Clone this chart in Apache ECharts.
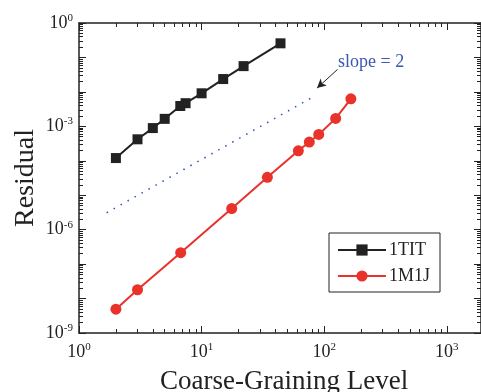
<!DOCTYPE html>
<html>
<head>
<meta charset="utf-8">
<script src="https://cdn.jsdelivr.net/npm/echarts@6/dist/echarts.min.js"></script>
<style>
  html, body { margin: 0; padding: 0; background: #fff; }
  #chart { width: 481px; height: 392px; }
</style>
</head>
<body>
<div id="chart"></div>
<script>
// data
var titX = [2, 3, 4, 5, 6.7, 7.4, 10, 15, 22, 44];
var titY = [1.2e-4, 4.2e-4, 8.9e-4, 1.65e-3, 3.9e-3, 4.7e-3, 9.1e-3, 0.0236, 0.056, 0.257];
var m1jX = [2, 3, 6.75, 17.6, 34.4, 61.5, 75.6, 90.2, 124, 165];
var m1jY = [4.9e-9, 1.8e-8, 2.15e-7, 4.1e-6, 3.3e-5, 1.95e-4, 3.5e-4, 5.8e-4, 1.7e-3, 6.3e-3];
var slopeX = [1.68, 82.6];
var slopeY = [3.1e-6, 7.4e-3];
var arrowFrom = [128.6, 0.045];
var arrowTo = [87.4, 0.0129];

var xLabelVals = [1, 10, 100, 1000];
var yLabelVals = [1, 1e-3, 1e-6, 1e-9];
var X_MIN = 1, X_MAX = 1900, Y_MIN = 1e-9, Y_MAX = 1;

// minor ticks 2..9 of each decade, given as exponents for the tick-only axes
function minorExps(lo, hi) {
  var out = [];
  for (var e = lo; e < hi; e++) {
    for (var k = 2; k <= 9; k++) out.push(Math.log10(k * Math.pow(10, e)));
  }
  return out;
}
var xMinorExps = minorExps(0, 4).filter(function (v) { return v <= Math.log10(X_MAX); });
var yMinorExps = minorExps(-9, 0);

function zip(a, b) { return a.map(function (v, i) { return [v, b[i]]; }); }

var FONT = '"Liberation Serif", "DejaVu Serif", serif';
var INK = '#222';

function powLabel(v) {
  var e = Math.round(Math.log10(v));
  return '{b|10}{s|' + (e < 0 ? '-' + (-e) : e) + '}';
}
var richLbl = {
  b: { fontFamily: FONT, fontSize: 18, color: INK },
  s: { fontFamily: FONT, fontSize: 11, color: INK, padding: [0, 0, 10, 0] }
};

function logX(pos, labels) {
  return {
    type: 'log', position: pos, min: X_MIN, max: X_MAX,
    axisLine: { show: true, onZero: false, lineStyle: { color: INK, width: 1.5 } },
    axisTick: { show: true, inside: true, length: 7, lineStyle: { color: INK, width: 1 } },
    axisLabel: labels ? { show: true, customValues: xLabelVals, formatter: powLabel, rich: richLbl, margin: 9 } : { show: false },
    splitLine: { show: false }
  };
}
function logY(pos, labels) {
  return {
    type: 'log', position: pos, min: Y_MIN, max: Y_MAX,
    axisLine: { show: true, onZero: false, lineStyle: { color: INK, width: 1.5 } },
    axisTick: { show: true, inside: true, length: 7, lineStyle: { color: INK, width: 1 } },
    axisLabel: labels ? { show: true, customValues: yLabelVals, formatter: powLabel, rich: richLbl, margin: 6 } : { show: false },
    splitLine: { show: false }
  };
}
// tick-only axes for the minor ticks, in exponent space
function minorAx(pos, lo, hi, vals) {
  return {
    type: 'value', position: pos, min: lo, max: hi, silent: true,
    axisLine: { show: false, onZero: false },
    axisTick: { show: true, inside: true, length: 4, customValues: vals, lineStyle: { color: INK, width: 1 } },
    axisLabel: { show: false },
    splitLine: { show: false }
  };
}

var chart = echarts.init(document.getElementById('chart'));
chart.setOption({
  animation: false,
  backgroundColor: '#fff',
  grid: { left: 79, top: 23, right: 0, bottom: 59, show: false },
  graphic: [
    { type: 'text', left: 338, top: 53, style: { text: 'slope = 2', fontFamily: FONT, fontSize: 18, fill: '#3a58b0' } },
    { type: 'text', left: 160, top: 368, style: { text: 'Coarse-Graining Level', fontFamily: FONT, fontSize: 27, fill: INK } },
    { type: 'text', x: 12, y: 178, rotation: Math.PI / 2, style: { text: 'Residual', fontFamily: FONT, fontSize: 28, fill: INK, align: 'center', verticalAlign: 'top' } }
  ],
  legend: {
    left: 329, top: 233, orient: 'vertical',
    padding: [8, 10, 7, 8], itemGap: 8, itemWidth: 48, itemHeight: 14,
    borderColor: INK, borderWidth: 1, backgroundColor: '#fff',
    textStyle: { fontFamily: FONT, fontSize: 18, color: INK, padding: [0, 0, 0, -2] },
    data: ['1TIT', '1M1J']
  },
  xAxis: [
    logX('bottom', true),
    logX('top', false),
    minorAx('bottom', Math.log10(X_MIN), Math.log10(X_MAX), xMinorExps),
    minorAx('top', Math.log10(X_MIN), Math.log10(X_MAX), xMinorExps)
  ],
  yAxis: [
    logY('left', true),
    logY('right', false),
    minorAx('left', Math.log10(Y_MIN), Math.log10(Y_MAX), yMinorExps),
    minorAx('right', Math.log10(Y_MIN), Math.log10(Y_MAX), yMinorExps)
  ],
  series: [
    {
      name: '1TIT', type: 'line', data: zip(titX, titY),
      symbol: 'rect', symbolSize: 10, color: INK,
      lineStyle: { color: INK, width: 2 }, itemStyle: { color: INK }
    },
    {
      name: '1M1J', type: 'line', data: zip(m1jX, m1jY),
      symbol: 'circle', symbolSize: 11, color: '#e8322a',
      lineStyle: { color: '#e8322a', width: 2 }, itemStyle: { color: '#e8322a' }
    },
    {
      name: 'slope', type: 'line', data: zip(slopeX, slopeY),
      symbol: 'none', silent: true,
      lineStyle: { color: '#3a58b0', width: 1.6, type: [1.5, 6.5] },
      markLine: {
        silent: true, symbol: ['none', 'arrow'], symbolSize: [7, 9],
        label: { show: false },
        lineStyle: { color: INK, width: 1, type: 'solid' },
        data: [[{ coord: arrowFrom }, { coord: arrowTo }]]
      }
    }
  ]
});
</script>
</body>
</html>
